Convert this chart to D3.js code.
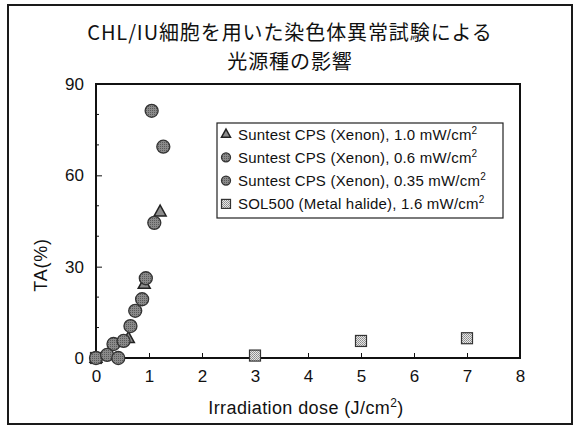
<!DOCTYPE html>
<html>
<head>
<meta charset="utf-8">
<script src="https://cdn.jsdelivr.net/npm/d3@7"></script>
<style>
  html, body { margin: 0; padding: 0; background: #fff; }
  svg { display: block; }
  text { font-family: "Liberation Sans", Arial, sans-serif; fill: #111; }
</style>
</head>
<body>
<svg id="chart" width="576" height="426"></svg>
<script>
// Chromosome aberration test (CHL/IU cells): effect of light source
const titleLines = ["CHL/IU細胞を用いた染色体異常試験による", "光源種の影響"];
const xTicks = [0, 1, 2, 3, 4, 5, 6, 7, 8];
const yTicks = [0, 30, 60, 90];
const yMinorTicks = [10, 20, 40, 50, 70, 80];

const seriesNames = [
  "Suntest CPS (Xenon), 1.0 mW/cm",
  "Suntest CPS (Xenon), 0.6 mW/cm",
  "Suntest CPS (Xenon), 0.35 mW/cm",
  "SOL500 (Metal halide), 1.6 mW/cm"
];
const seriesShapes = ["triangle", "circle", "circle", "square"];

// dose (J/cm2) and TA (%) per series
const xenon10Dose = [0, 0.61, 0.91, 1.21];
const xenon10TA   = [0, 6.5, 24.3, 48.1];
const xenon06Dose = [0, 0.21, 0.42, 0.65, 0.87, 1.05, 1.27];
const xenon06TA   = [0, 1.0, 0, 10.5, 19.3, 81.2, 69.4];
const xenon035Dose = [0.33, 0.52, 0.74, 0.94, 1.10];
const xenon035TA   = [4.6, 5.6, 15.5, 26.2, 44.4];
const sol500Dose = [0, 3.0, 5.0, 7.0];
const sol500TA   = [0, 0.8, 5.6, 6.5];

const seriesDose = [xenon10Dose, xenon06Dose, xenon035Dose, sol500Dose];
const seriesTA = [xenon10TA, xenon06TA, xenon035TA, sol500TA];

const svg = d3.select("#chart");
const plot = { left: 96, right: 520, top: 84, bottom: 358 };

const x = d3.scaleLinear().domain([0, 8]).range([plot.left, plot.right]);
const y = d3.scaleLinear().domain([0, 90]).range([plot.bottom, plot.top]);

// textures for the markers
const defs = svg.append("defs");
const dots = defs.append("pattern").attr("id", "dotGrey")
  .attr("width", 2).attr("height", 2).attr("patternUnits", "userSpaceOnUse");
dots.append("rect").attr("width", 2).attr("height", 2).attr("fill", "#8a8a8a");
dots.append("rect").attr("width", 1).attr("height", 1).attr("fill", "#5a5a5a");
const check = defs.append("pattern").attr("id", "checkLight")
  .attr("width", 2).attr("height", 2).attr("patternUnits", "userSpaceOnUse");
check.append("rect").attr("width", 2).attr("height", 2).attr("fill", "#e8e8e8");
check.append("rect").attr("width", 1).attr("height", 1).attr("fill", "#8a8a8a");
check.append("rect").attr("x", 1).attr("y", 1).attr("width", 1).attr("height", 1).attr("fill", "#9a9a9a");

// outer frame
svg.append("rect").attr("x", 8).attr("y", 5).attr("width", 564).attr("height", 419)
  .attr("fill", "none").attr("stroke", "#1a1a1a").attr("stroke-width", 2);

// title
svg.append("g").selectAll("text").data(titleLines).join("text")
  .attr("x", 290).attr("y", (d, i) => 40 + i * 29)
  .attr("text-anchor", "middle")
  .style("font-family", "'Noto Sans CJK JP', sans-serif")
  .style("font-size", "20px")
  .style("letter-spacing", "0.9px")
  .text(d => d);

// axes with inward ticks
const xAxis = d3.axisBottom(x).tickValues(xTicks).tickSize(-5).tickPadding(12).tickFormat(d3.format("d"));
const gx = svg.append("g").attr("transform", `translate(0,${plot.bottom})`).call(xAxis);
const yAxis = d3.axisLeft(y).tickValues(yTicks).tickSize(-6).tickPadding(12).tickFormat(d3.format("d"));
const gy = svg.append("g").attr("transform", `translate(${plot.left},0)`).call(yAxis);
svg.append("g").selectAll("line").data(yMinorTicks).join("line")
  .attr("x1", plot.left).attr("x2", plot.left + 3)
  .attr("y1", d => y(d)).attr("y2", d => y(d))
  .attr("stroke", "#111").attr("stroke-width", 1);
[gx, gy].forEach(g => {
  g.select(".domain").remove();
  g.selectAll(".tick line").attr("stroke", "#111");
  g.selectAll(".tick text").style("font-size", "17px").attr("fill", "#111");
});

// plot frame
svg.append("rect").attr("x", plot.left).attr("y", plot.top)
  .attr("width", plot.right - plot.left).attr("height", plot.bottom - plot.top)
  .attr("fill", "none").attr("stroke", "#111").attr("stroke-width", 2);

// axis titles
const xt = svg.append("text").attr("x", 306).attr("y", 414).attr("text-anchor", "middle")
  .style("font-size", "18px").style("letter-spacing", "0.4px").text("Irradiation dose (J/cm");
xt.append("tspan").attr("dy", -7).style("font-size", "12px").text("2");
xt.append("tspan").attr("dy", 7).text(")");
svg.append("text").attr("transform", "translate(47,265) rotate(-90)")
  .attr("text-anchor", "middle").style("font-size", "18px").style("letter-spacing", "0.8px").text("TA(%)");

// marker drawing
function drawMarker(g, shape, cx, cy, size) {
  if (shape === "circle") {
    g.append("circle").attr("cx", cx).attr("cy", cy).attr("r", size / 2)
      .attr("fill", "url(#dotGrey)").attr("stroke", "#333").attr("stroke-width", 1.3);
  } else if (shape === "triangle") {
    const h = size * 0.9;
    g.append("path")
      .attr("d", `M${cx},${cy - h * 0.6}L${cx + size / 2},${cy + h * 0.4}L${cx - size / 2},${cy + h * 0.4}Z`)
      .attr("fill", "#8c8c8c").attr("stroke", "#222").attr("stroke-width", 1.5);
  } else {
    g.append("rect").attr("x", cx - size / 2).attr("y", cy - size / 2)
      .attr("width", size).attr("height", size)
      .attr("fill", "url(#checkLight)").attr("stroke", "#333").attr("stroke-width", 1.2);
  }
}

const marks = svg.append("g");
[3, 0, 2, 1].forEach(s => {
  seriesDose[s].forEach((d, i) => {
    const size = seriesShapes[s] === "circle" ? 13 : (seriesShapes[s] === "triangle" ? 12 : 11);
    drawMarker(marks, seriesShapes[s], x(d), y(seriesTA[s][i]), size);
  });
});

// legend
const lg = svg.append("g");
lg.append("rect").attr("x", 217).attr("y", 123).attr("width", 286).attr("height", 95)
  .attr("fill", "#fff").attr("stroke", "#222").attr("stroke-width", 1.2);
seriesNames.forEach((name, i) => {
  const cy = 134 + i * 23.3;
  drawMarker(lg, seriesShapes[i], 226, cy, 9);
  const t = lg.append("text").attr("x", 238).attr("y", cy + 5.5)
    .style("font-size", "15px").style("letter-spacing", "0.2px").text(name);
  t.append("tspan").attr("dy", -6).style("font-size", "10px").text("2");
});
</script>
</body>
</html>
